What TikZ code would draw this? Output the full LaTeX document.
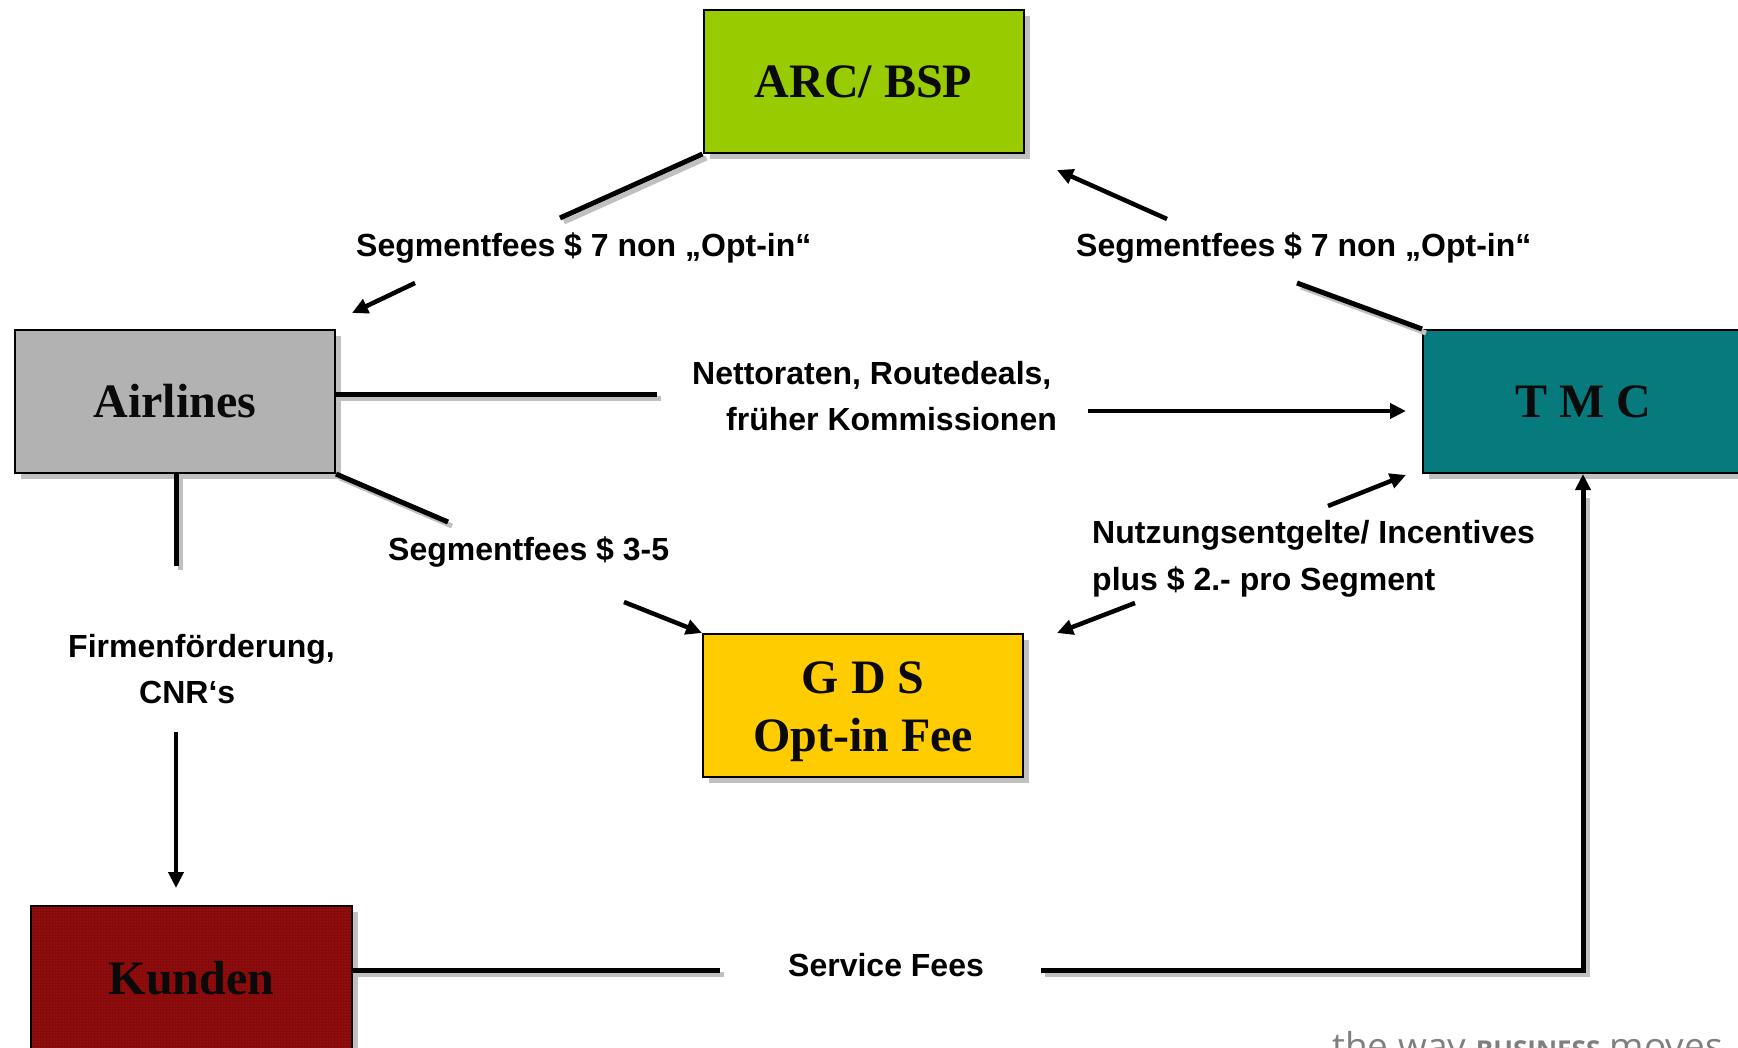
\documentclass[tikz,border=0pt]{standalone}
\usepackage{fontspec}
\setmainfont{Liberation Serif}
\newfontfamily\arialf{Liberation Sans}
\newfontfamily\opensf{Open Sans}
\usetikzlibrary{arrows.meta,shadows,patterns}
\definecolor{arcgreen}{HTML}{99CC00}
\definecolor{airgray}{HTML}{B2B2B2}
\definecolor{tmcteal}{HTML}{077A7D}
\definecolor{gdsyellow}{HTML}{FFCC00}
\definecolor{kunred}{HTML}{870909}
\definecolor{kundot}{HTML}{B03030}
\definecolor{shadowgray}{HTML}{C0C0C0}
\definecolor{logogray}{HTML}{7F7F7F}
\begin{document}
\begin{tikzpicture}[x=1pt,y=-1pt,
  boxfont/.style={font=\bfseries\fontsize{48}{58}\selectfont, text=black!96, align=center},
  box/.style={draw=black, line width=2pt, minimum width=320pt, minimum height=143pt,
    inner sep=0pt, boxfont,
    drop shadow={shadow xshift=6pt, shadow yshift=-6pt, fill=shadowgray, opacity=1}},
  lab/.style={anchor=base west, inner sep=0pt, font=\arialf\bfseries\fontsize{32}{32}\selectfont},
  ln/.style={line width=5pt},
  lnshadow/.style={line width=5pt, draw=shadowgray, transform canvas={xshift=4pt, yshift=-4pt}},
  arr/.style={line width=4.5pt, -{Triangle[length=16pt,width=15pt]}}
]
\useasboundingbox (0,0) rectangle (1738,1048);
\clip (0,0) rectangle (1738,1048);

% boxes
\node[box, fill=arcgreen] (arc) at (863.5,81.5) {ARC/ BSP};
\node[box, fill=airgray] (air) at (175,401.5) {Airlines};
\node[box, fill=tmcteal] (tmc) at (1583,401.5) {T M C};
\node[box, fill=gdsyellow,
  label={[boxfont, inner sep=0pt, yshift=-6pt]center:G D S\\Opt-in Fee}] (gds) at (863,705.5) {};
\node[box, fill=kunred, minimum height=144pt, minimum width=321pt,
  postaction={pattern=dots, pattern color=kundot}] (kun) at (191.5,978) {Kunden};

% free ends
\coordinate (c1) at (560,218);
\coordinate (c2s) at (415,283);
\coordinate (c2e) at (352,313);
\coordinate (c3) at (1297,283);
\coordinate (c4s) at (1167,219);
\coordinate (c4e) at (1057,170);
\coordinate (c5) at (657,395);
\coordinate (c6s) at (1088,411);
\coordinate (c6e) at (1406,411);
\coordinate (c7) at (448,522);
\coordinate (c8s) at (624,602);
\coordinate (c9s) at (1328,506);
\coordinate (c9e) at (1406,475);
\coordinate (c10s) at (1135,603);
\coordinate (c10e) at (1057,633);
\coordinate (c11) at (176,566);
\coordinate (c12s) at (176,732);
\coordinate (c12e) at (176,888);
\coordinate (c13) at (720,970);
\coordinate (c14) at (1041,970);

% plain lines with shadows
\draw[lnshadow] (arc.south west) -- (c1);
\draw[ln] (arc.south west) -- (c1);
\draw[lnshadow] (tmc.north west) -- (c3);
\draw[ln] (tmc.north west) -- (c3);
\draw[lnshadow] (air.east |- c5) -- (c5);
\draw[ln] (air.east |- c5) -- (c5);
\draw[lnshadow] (air.south east) -- (c7);
\draw[ln] (air.south east) -- (c7);
\draw[lnshadow] (air.south -| c11) -- (c11);
\draw[ln] (air.south -| c11) -- (c11);
\draw[lnshadow] (kun.east |- c13) -- (c13);
\draw[ln] (kun.east |- c13) -- (c13);
\draw[lnshadow] (c14) -- (tmc.south |- c14) -- ([yshift=-20pt]tmc.south);

% arrows
\draw[arr] (c2s) -- (c2e);
\draw[arr] (c4s) -- (c4e);
\draw[arr] (c6s) -- (c6e);
\draw[arr] (c8s) -- (gds.north west);
\draw[arr] (c9s) -- (c9e);
\draw[arr] (c10s) -- (c10e);
\draw[arr] (c12s) -- (c12e);
\draw[arr, line width=5pt] (c14) -- (tmc.south |- c14) -- (tmc.south);

% labels
\node[lab] (l1) at (356,257) {Segmentfees \$ 7 non „Opt-in“};
\node[lab] (l2) at (1076,257) {Segmentfees \$ 7 non „Opt-in“};
\node[lab] (l3a) at (692,385) {Nettoraten, Routedeals,};
\node[lab] (l3b) at (726,431) {früher Kommissionen};
\node[lab] (l4) at (388,560) {Segmentfees \$ 3-5};
\node[lab] (l5a) at (1092,543) {Nutzungsentgelte/ Incentives};
\node[lab] (l5b) at (1092,590) {plus \$ 2.- pro Segment};
\node[lab] (l6a) at (68,657) {Firmenförderung,};
\node[lab] (l6b) at (139,703) {CNR‘s};
\node[lab] (l7) at (788,976) {Service Fees};

% logo text
\node[anchor=base west, inner sep=0pt, text=logogray,
  font=\opensf\fontsize{37}{37}\selectfont] (logo) at (1332,1059)
  {the way {\bfseries\fontsize{26}{26}\selectfont BUSINESS} moves};
\end{tikzpicture}
\end{document}
